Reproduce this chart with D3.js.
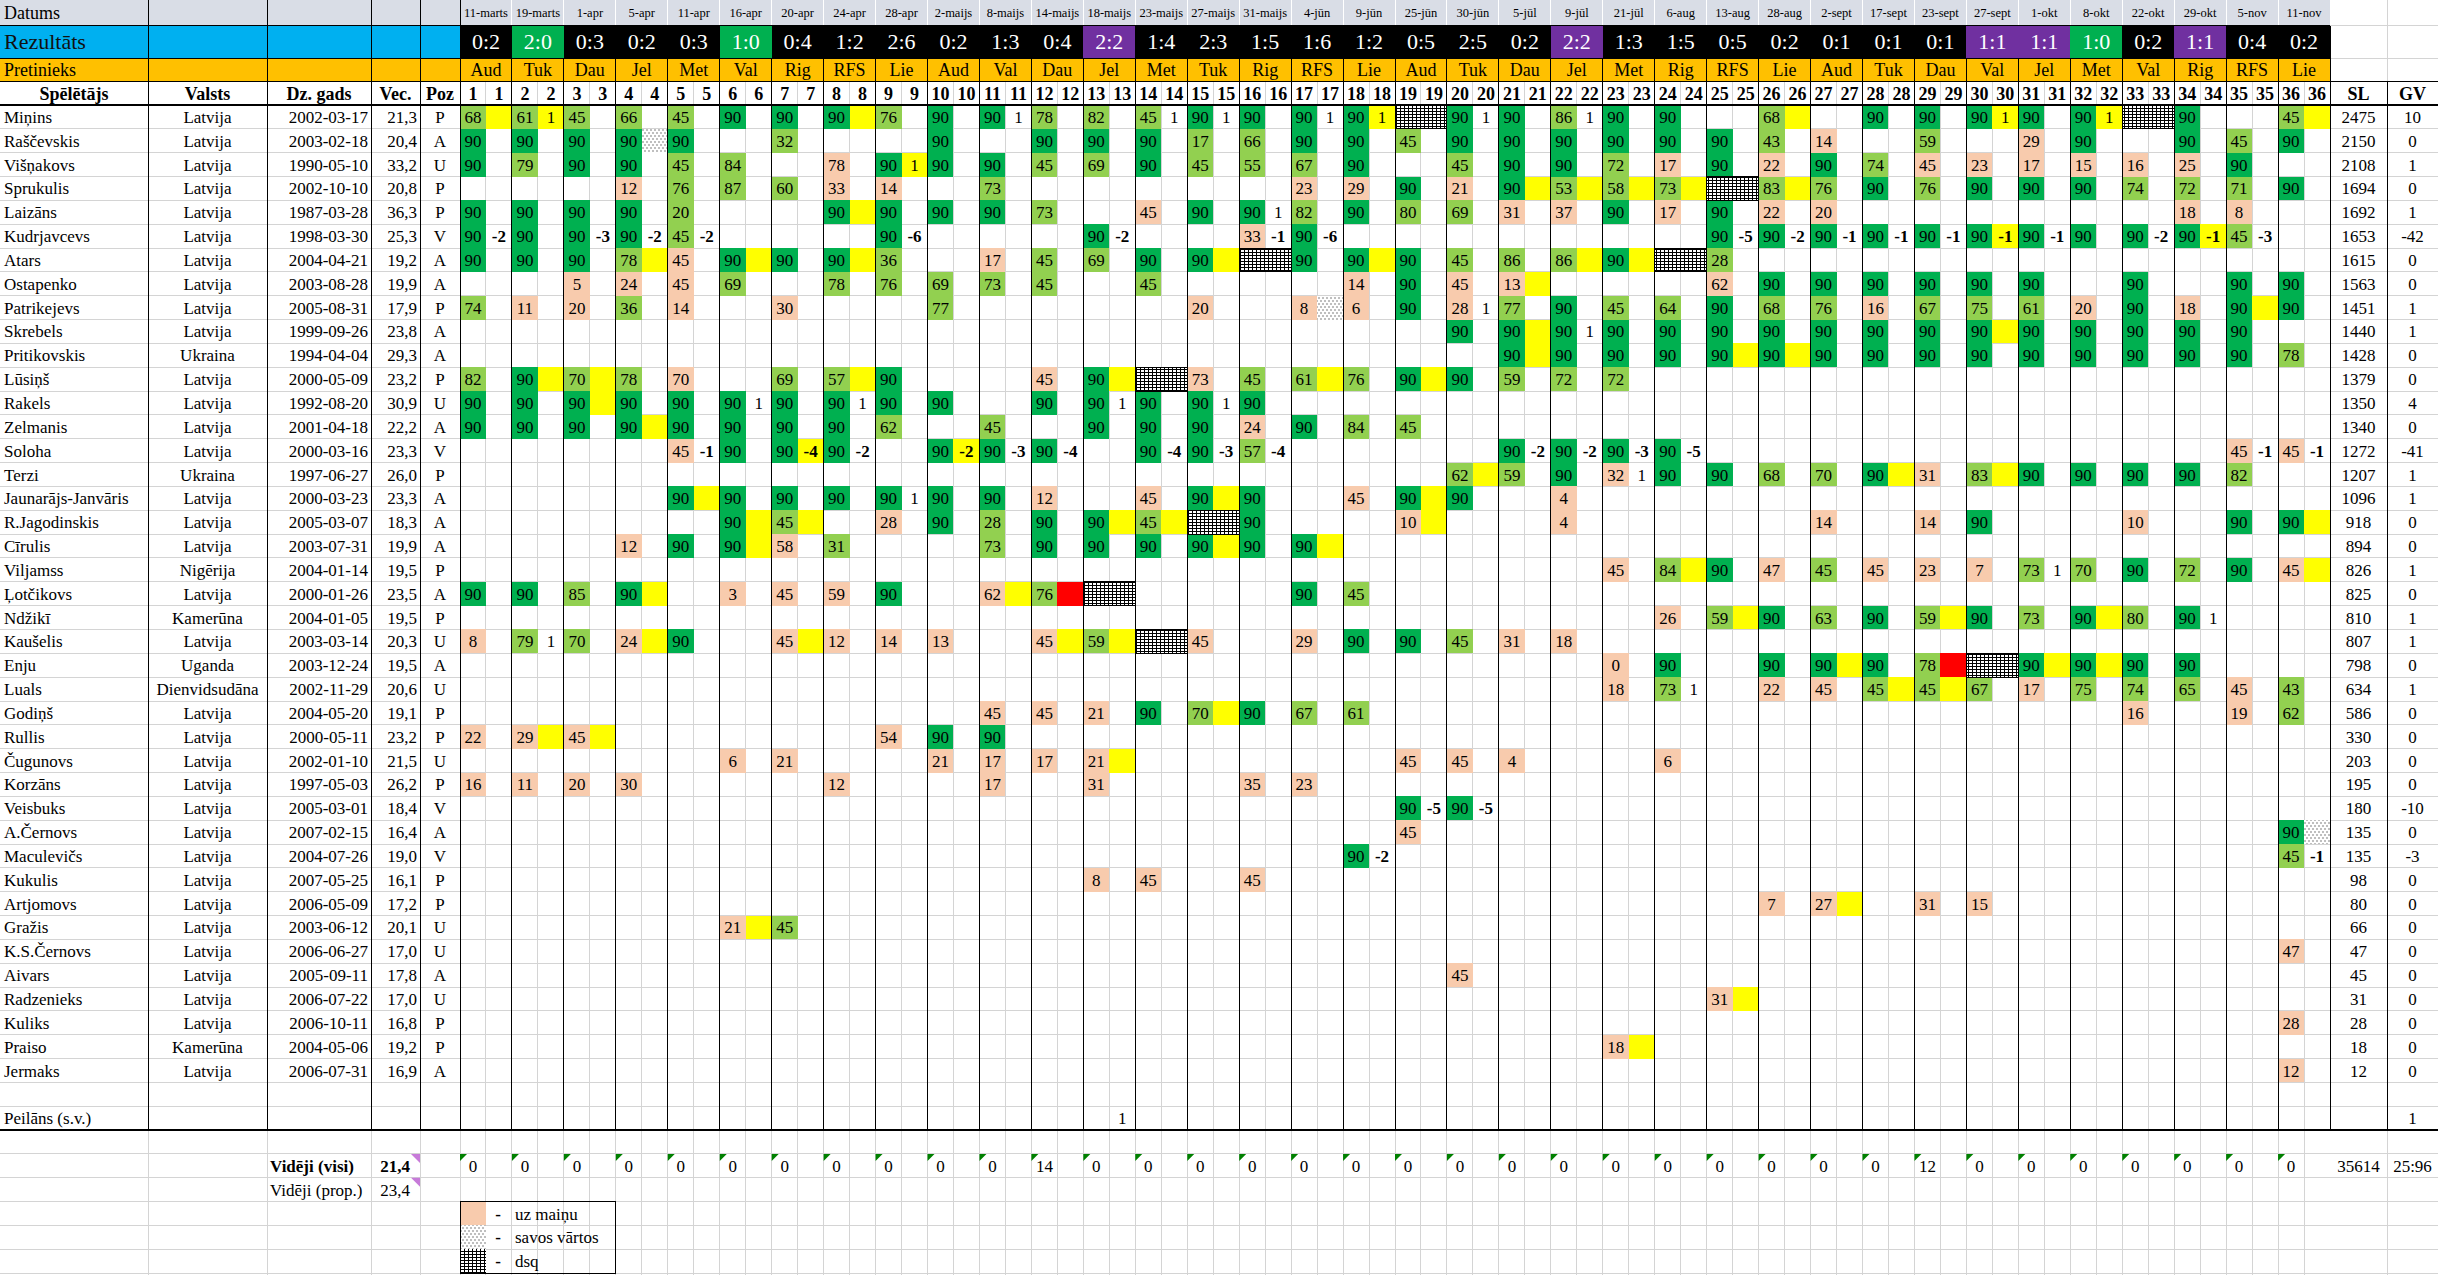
<!DOCTYPE html>
<html>
<head>
<meta charset="utf-8">
<script src="https://cdn.jsdelivr.net/npm/d3@7"></script>
<style>
body { margin: 0; background: #fff; }
svg { display: block; font-family: 'Liberation Serif', 'Times New Roman', serif; }
</style>
</head>
<body>
<svg width="2438" height="1275"></svg>
<script>
const dates = ['11-marts', '19-marts', '1-apr', '5-apr', '11-apr', '16-apr', '20-apr', '24-apr', '28-apr', '2-maijs',
    '8-maijs', '14-maijs', '18-maijs', '23-maijs', '27-maijs', '31-maijs', '4-jūn', '9-jūn', '25-jūn', '30-jūn',
    '5-jūl', '9-jūl', '21-jūl', '6-aug', '13-aug', '28-aug', '2-sept', '17-sept', '23-sept', '27-sept',
    '1-okt', '8-okt', '22-okt', '29-okt', '5-nov', '11-nov'];
const scores = ['0:2', '2:0', '0:3', '0:2', '0:3', '1:0', '0:4', '1:2', '2:6', '0:2', '1:3', '0:4', '2:2', '1:4', '2:3',
    '1:5', '1:6', '1:2', '0:5', '2:5', '0:2', '2:2', '1:3', '1:5', '0:5', '0:2', '0:1', '0:1', '0:1', '1:1',
    '1:1', '1:0', '0:2', '1:1', '0:4', '0:2'];
const opponents = ['Aud', 'Tuk', 'Dau', 'Jel', 'Met', 'Val', 'Rig', 'RFS', 'Lie', 'Aud', 'Val', 'Dau', 'Jel', 'Met', 'Tuk',
    'Rig', 'RFS', 'Lie', 'Aud', 'Tuk', 'Dau', 'Jel', 'Met', 'Rig', 'RFS', 'Lie', 'Aud', 'Tuk', 'Dau', 'Val',
    'Jel', 'Met', 'Val', 'Rig', 'RFS', 'Lie'];

const players = ['Miņins', 'Raščevskis', 'Višņakovs', 'Sprukulis', 'Laizāns', 'Kudrjavcevs', 'Atars', 'Ostapenko',
    'Patrikejevs', 'Skrebels', 'Pritikovskis', 'Lūsiņš', 'Rakels', 'Zelmanis', 'Soloha', 'Terzi', 'Jaunarājs-Janvāris',
    'R.Jagodinskis', 'Cīrulis', 'Viljamss', 'Ļotčikovs', 'Ndžikī', 'Kaušelis', 'Enju', 'Luals', 'Godiņš', 'Rullis',
    'Čugunovs', 'Korzāns', 'Veisbuks', 'A.Černovs', 'Maculevičs', 'Kukulis', 'Artjomovs', 'Gražis', 'K.S.Černovs',
    'Aivars', 'Radzenieks', 'Kuliks', 'Praiso', 'Jermaks'];
const countries = ['Latvija', 'Latvija', 'Latvija', 'Latvija', 'Latvija', 'Latvija', 'Latvija', 'Latvija', 'Latvija',
    'Latvija', 'Ukraina', 'Latvija', 'Latvija', 'Latvija', 'Latvija', 'Ukraina', 'Latvija', 'Latvija', 'Latvija',
    'Nigērija', 'Latvija', 'Kamerūna', 'Latvija', 'Uganda', 'Dienvidsudāna', 'Latvija', 'Latvija', 'Latvija', 'Latvija',
    'Latvija', 'Latvija', 'Latvija', 'Latvija', 'Latvija', 'Latvija', 'Latvija', 'Latvija', 'Latvija', 'Latvija',
    'Kamerūna', 'Latvija'];
const births = ['2002-03-17', '2003-02-18', '1990-05-10', '2002-10-10', '1987-03-28', '1998-03-30', '2004-04-21',
    '2003-08-28', '2005-08-31', '1999-09-26', '1994-04-04', '2000-05-09', '1992-08-20', '2001-04-18', '2000-03-16',
    '1997-06-27', '2000-03-23', '2005-03-07', '2003-07-31', '2004-01-14', '2000-01-26', '2004-01-05', '2003-03-14',
    '2003-12-24', '2002-11-29', '2004-05-20', '2000-05-11', '2002-01-10', '1997-05-03', '2005-03-01', '2007-02-15',
    '2004-07-26', '2007-05-25', '2006-05-09', '2003-06-12', '2006-06-27', '2005-09-11', '2006-07-22', '2006-10-11',
    '2004-05-06', '2006-07-31'];
const ages = ['21,3', '20,4', '33,2', '20,8', '36,3', '25,3', '19,2', '19,9', '17,9', '23,8', '29,3', '23,2', '30,9',
    '22,2', '23,3', '26,0', '23,3', '18,3', '19,9', '19,5', '23,5', '19,5', '20,3', '19,5', '20,6', '19,1', '23,2',
    '21,5', '26,2', '18,4', '16,4', '19,0', '16,1', '17,2', '20,1', '17,0', '17,8', '17,0', '16,8', '19,2', '16,9'];
const positions = ['P', 'A', 'U', 'P', 'P', 'V', 'A', 'A', 'P', 'A', 'A', 'P', 'U', 'A', 'V', 'P', 'A', 'A', 'A', 'P',
    'A', 'P', 'U', 'A', 'U', 'P', 'P', 'U', 'P', 'V', 'A', 'V', 'P', 'P', 'U', 'U', 'A', 'U', 'P', 'P', 'A'];
const minutesTotal = [2475, 2150, 2108, 1694, 1692, 1653, 1615, 1563, 1451, 1440, 1428, 1379, 1350, 1340, 1272, 1207,
    1096, 918, 894, 826, 825, 810, 807, 798, 634, 586, 330, 203, 195, 180, 135, 135, 98, 80, 66, 47, 45, 31, 28, 18, 12];
const goalsTotal = [10, 0, 1, 0, 1, -42, 0, 0, 1, 1, 0, 0, 4, 0, -41, 1, 1, 0, 0, 1, 0, 1, 1, 0, 1, 0, 0, 0, 0, -10,
    0, -3, 0, 0, 0, 0, 0, 0, 0, 0, 0];

// per match: g = full game, l = started, s = came on; after comma goals / y yellow / r red / o own goal; x = dsq; .N = N empty
const appearances = [
    'l68,y l61,1y l45 l66 l45 g90 g90 g90,y l76 g90 g90,1 l78 l82 l45,1 g90,1 g90 g90,1 g90,1y x g90,1 g90 l86,1 g90 g90 . l68,y . g90 g90 g90,1y g90 g90,1y x g90 . l45,y',
    'g90 g90 g90 g90,o g90 . l32 .2 g90 . g90 g90 g90 l17 l66 g90 g90 l45 g90 g90 g90 g90 g90 g90 l43 s14 . l59 . s29 g90 . g90 l45 g90',
    'g90 l79 g90 g90 l45 l84 . s78 g90,1y g90 g90 l45 l69 g90 l45 l55 l67 g90 . l45 g90 g90 l72 s17 g90 s22 g90 l74 s45 s23 s17 s15 s16 s25 g90 .',
    '.3 s12 l76 l87 l60 s33 s14 . l73 .5 s23 s29 g90 s21 g90,y l53,y l58,y l73,y x l83,y l76 g90 l76 g90 g90 g90 l74 l72 l71 g90',
    'g90 g90 g90 g90 l20 .2 g90,y g90 g90 g90 l73 . s45 g90 g90,1 l82 g90 l80 l69 s31 s37 g90 s17 g90 s22 s20 .6 s18 s8 .',
    'g90,-2 g90 g90,-3 g90,-2 l45,-2 .3 g90,-6 .3 g90,-2 .2 s33,-1 g90,-6 .7 g90,-5 g90,-2 g90,-1 g90,-1 g90,-1 g90,-1y g90,-1 g90 g90,-2 g90,-1y l45,-3 .',
    'g90 g90 g90 l78,y s45 g90,y g90 g90,y l36 . s17 l45 l69 g90 g90,y x g90 g90,y g90 l45 l86 l86,y g90,y x l28 .11',
    '.2 s5 s24 s45 l69 . l78 l76 l69 l73 l45 . l45 .3 s14 g90 s45 s13,y .3 s62 g90 g90 g90 g90 g90 g90 . g90 . g90 g90',
    'l74 s11 s20 l36 s14 . s30 .2 l77 .4 s20 . s8,o s6 g90 s28,1 l77 g90 l45 l64 g90 l68 l76 s16 l67 l75 l61 s20 g90 s18 g90,y g90',
    '.19 g90 g90,y g90,1 g90 g90 g90 g90 g90 g90 g90 g90,y g90 g90 g90 g90 g90 .',
    '.20 g90,y g90 g90 g90 g90,y g90,y g90 g90 g90 g90 g90 g90 g90 g90 g90 l78',
    'l82 g90,y l70,y l78 s70 . l69 l57,y g90 .2 s45 g90,y x s73 l45 l61,y l76 g90,y g90 l59 l72 l72 .13',
    'g90 g90 g90,y g90 g90 g90,1 g90 g90,1 g90 g90 . g90 g90,1 g90 g90,1 g90 .20',
    'g90 g90 g90 g90,y g90 g90 g90 g90 l62 . l45 . g90 g90 g90 s24 g90 l84 l45 .17',
    '.4 s45,-1 g90 g90,-4y g90,-2 . g90,-2y g90,-3 g90,-4 . g90,-4 g90,-3 l57,-4 .4 g90,-2 g90,-2 g90,-3 g90,-5 .10 s45,-1 s45,-1',
    '.19 l62,y l59 g90 s32,1 g90 g90 l68 l70 g90,y s31 l83,y g90 g90 g90 g90 l82 .',
    '.4 g90,y g90 g90 g90 g90,1 g90 g90 s12 . s45 g90,y g90 . s45 g90,y g90 . s4 .14',
    '.5 g90,y l45,y . s28 g90 l28 g90 g90,y l45,y x g90 .2 s10,y .2 s4 .4 s14 . s14 g90 .2 s10 . g90 g90,y',
    '.3 s12 g90 g90,y s58 l31 .2 l73 g90 g90 g90 g90,y g90 g90,y .19',
    '.22 s45 l84,y g90 s47 l45 s45 s23 s7 l73,1 l70 g90 l72 g90 s45,y',
    'g90 g90 l85 g90,y . s3 s45 s59 g90 . s62,y l76,r x .3 g90 l45 .18',
    '.23 s26 l59,y g90 l63 g90 l59,y g90 l73 g90,y l80 g90,1 .2',
    's8 l79,1 l70 s24,y g90 . s45,y s12 s14 s13 . s45,y l59,y x s45 . s29 g90 g90 l45 s31 s18 .14',
    '.22 s0 g90 . g90 g90,y g90 l78,r x g90,y g90,y g90 g90 .2',
    '.22 s18 l73,1 . s22 s45 l45,y l45,y l67 s17 l75 l74 l65 s45 l43',
    '.10 s45 s45 s21 g90 l70,y g90 l67 l61 .14 s16 . s19 l62',
    's22 s29,y s45,y .5 s54 g90 g90 .25',
    '.5 s6 s21 .2 s21 s17 s17 s21,y .5 s45 s45 s4 .2 s6 .12',
    's16 s11 s20 s30 .3 s12 .2 s17 . s31 .2 s35 s23 .19',
    '.18 g90,-5 g90,-5 .16',
    '.18 s45 .16 g90,o',
    '.17 g90,-2 .17 l45,-1',
    '.12 s8 s45 . s45 .20',
    '.25 s7 s27,y . s31 s15 .6',
    '.5 s21,y l45 .29',
    '.35 s47',
    '.19 s45 .16',
    '.24 s31,y .11',
    '.35 s28',
    '.22 s18,y .13',
    '.35 s12'
];

const keeperName = 'Peilāns (s.v.)';
const keeperApps = '.12 n,1 .23';
const keeperGoals = 1;

const averages = [0, 0, 0, 0, 0, 0, 0, 0, 0, 0, 0, 14, 0, 0, 0, 0, 0, 0, 0, 0, 0, 0, 0, 0, 0, 0, 0, 0, 12, 0,
    0, 0, 0, 0, 0, 0];
const averageLabels = ['Vidēji (visi)', 'Vidēji (prop.)'];
const averageAges = ['21,4', '23,4'];
const seasonTotals = ['35614', '25:96'];
const legendLabels = ['uz maiņu', 'savos vārtos', 'dsq'];

const svg = d3.select('svg');
const width = +svg.attr('width');
const height = +svg.attr('height');

const nRows = 49;
const x = d3.scaleLinear().domain([0, dates.length]).range([460, 2330]);
const y = d3.scaleLinear().domain([0, nRows]).range([105, 105 + nRows * 23.84]);
const half = (x(1) - x(0)) / 2;
const rh = y(1) - y(0);
const colEdges = [148, 267, 371, 420, 460];
const slLeft = 2330, gvLeft = 2387;
const tableBottom = y(players.length + 2);

const fillByKind = { g: '#00b050', l: '#92d050', s: '#f8cbad' };
const markFill = { y: '#ffff00', r: '#ff0000', o: 'url(#dots)' };
const gridColor = '#d4d4d4';

const parseRow = (s) => {
    const out = [];
    s.split(' ').forEach((t) => {
        const rep = t.match(/^\.(\d+)$/);
        if (rep) {
            for (let i = 0; i < +rep[1]; i++) out.push(null);
        } else if (t === '.') {
            out.push(null);
        } else if (t === 'x') {
            out.push({ dsq: true });
        } else {
            const [m, extra = ''] = t.split(',');
            const ex = extra.match(/^(-?\d+)?([yro])?$/);
            out.push({ kind: m[0], min: m.slice(1), goals: ex[1] || '', mark: ex[2] || '' });
        }
    });
    return out;
};

const cells = [];
appearances.forEach((s, r) => parseRow(s).forEach((c, m) => { if (c) cells.push({ ...c, r, m }); }));
parseRow(keeperApps).forEach((c, m) => { if (c) cells.push({ ...c, r: players.length + 1, m }); });

const defs = svg.append('defs');
const dsq = defs.append('pattern')
    .attr('id', 'dsq')
    .attr('width', 4).attr('height', 3)
    .attr('patternUnits', 'userSpaceOnUse');
dsq.append('rect').attr('width', 4).attr('height', 3).attr('fill', '#fff');
dsq.append('rect').attr('width', 4).attr('height', 1).attr('fill', '#000');
dsq.append('rect').attr('width', 1).attr('height', 3).attr('fill', '#000');
const dots = defs.append('pattern')
    .attr('id', 'dots')
    .attr('width', 4).attr('height', 6)
    .attr('patternUnits', 'userSpaceOnUse');
dots.append('rect').attr('width', 4).attr('height', 6).attr('fill', '#fff');
dots.append('rect').attr('x', 0.5).attr('y', 0.5).attr('width', 1).attr('height', 1).attr('fill', '#000');
dots.append('rect').attr('x', 2.5).attr('y', 3.5).attr('width', 1).attr('height', 1).attr('fill', '#000');

svg.append('rect').attr('width', width).attr('height', height).attr('fill', '#fff');

// header bands
const head = svg.append('g').attr('shape-rendering', 'crispEdges');
head.append('rect').attr('x', 0).attr('y', 0).attr('width', slLeft).attr('height', 25).attr('fill', '#d9dde6');
head.append('rect').attr('x', 0).attr('y', 25).attr('width', 460).attr('height', 33).attr('fill', '#00b0f0');
head.append('rect').attr('x', 0).attr('y', 58).attr('width', slLeft).attr('height', 23).attr('fill', '#ffc000');

const resultColor = (s) => {
    const [a, b] = s.split(':').map(Number);
    return a > b ? '#00b050' : a === b ? '#7030a0' : '#000000';
};
head.selectAll('rect.score')
    .data(scores)
    .join('rect')
    .attr('class', 'score')
    .attr('x', (d, i) => x(i))
    .attr('y', 25)
    .attr('width', x(1) - x(0) + 0.5)
    .attr('height', 33)
    .attr('fill', resultColor);

// light grid
const grid = svg.append('g').attr('stroke', gridColor).attr('shape-rendering', 'crispEdges');
grid.selectAll('line.h')
    .data(d3.range(nRows + 1))
    .join('line')
    .attr('class', 'h')
    .attr('x1', 0).attr('x2', width)
    .attr('y1', (d) => y(d)).attr('y2', (d) => y(d));
grid.selectAll('line.sub')
    .data(d3.range(dates.length))
    .join('line')
    .attr('class', 'sub')
    .attr('x1', (d) => x(d) + half).attr('x2', (d) => x(d) + half)
    .attr('y1', 81).attr('y2', height);
grid.selectAll('line.low')
    .data(d3.range(dates.length).map(x).concat(colEdges, [gvLeft]))
    .join('line')
    .attr('class', 'low')
    .attr('x1', (d) => d).attr('x2', (d) => d)
    .attr('y1', tableBottom).attr('y2', height);
grid.selectAll('line.top')
    .data([25, 58])
    .join('line')
    .attr('class', 'top')
    .attr('x1', slLeft).attr('x2', width)
    .attr('y1', (d) => d).attr('y2', (d) => d);
grid.append('line').attr('x1', gvLeft).attr('x2', gvLeft).attr('y1', 0).attr('y2', 81);

// cells
const cellG = svg.append('g').attr('shape-rendering', 'crispEdges');
cellG.selectAll('rect.min')
    .data(cells.filter((c) => !c.dsq && fillByKind[c.kind]))
    .join('rect')
    .attr('class', 'min')
    .attr('x', (d) => x(d.m)).attr('y', (d) => y(d.r))
    .attr('width', half).attr('height', rh)
    .attr('fill', (d) => fillByKind[d.kind]);
cellG.selectAll('rect.mark')
    .data(cells.filter((c) => c.mark))
    .join('rect')
    .attr('class', 'mark')
    .attr('x', (d) => x(d.m) + half).attr('y', (d) => y(d.r))
    .attr('width', half).attr('height', rh)
    .attr('fill', (d) => markFill[d.mark]);
cellG.selectAll('rect.dsq')
    .data(cells.filter((c) => c.dsq))
    .join('rect')
    .attr('class', 'dsq')
    .attr('x', (d) => x(d.m)).attr('y', (d) => y(d.r))
    .attr('width', half * 2).attr('height', rh)
    .attr('fill', 'url(#dsq)')
    .attr('stroke', '#000');

const txt = svg.append('g').attr('font-size', 17).attr('fill', '#000');
txt.selectAll('text.min')
    .data(cells.filter((c) => !c.dsq && c.min !== ''))
    .join('text')
    .attr('class', 'min')
    .attr('x', (d) => x(d.m) + half / 2)
    .attr('y', (d) => y(d.r) + rh / 2 + 6)
    .attr('text-anchor', 'middle')
    .text((d) => d.min);
txt.selectAll('text.goal')
    .data(cells.filter((c) => c.goals !== ''))
    .join('text')
    .attr('class', 'goal')
    .attr('x', (d) => x(d.m) + half * 1.5)
    .attr('y', (d) => y(d.r) + rh / 2 + 6)
    .attr('text-anchor', 'middle')
    .attr('font-weight', (d) => (+d.goals < 0 ? 'bold' : null))
    .text((d) => d.goals);

// player columns
const rowsG = txt.selectAll('g.player')
    .data(players)
    .join('g')
    .attr('class', 'player')
    .attr('transform', (d, i) => `translate(0, ${y(i) + rh / 2 + 6})`);
rowsG.append('text').attr('x', 4).text((d) => d);
rowsG.append('text').attr('x', 207.5).attr('text-anchor', 'middle').text((d, i) => countries[i]);
rowsG.append('text').attr('x', 368).attr('text-anchor', 'end').text((d, i) => births[i]);
rowsG.append('text').attr('x', 417).attr('text-anchor', 'end').text((d, i) => ages[i]);
rowsG.append('text').attr('x', 440).attr('text-anchor', 'middle').text((d, i) => positions[i]);
rowsG.append('text').attr('x', (slLeft + gvLeft) / 2).attr('text-anchor', 'middle').text((d, i) => minutesTotal[i]);
rowsG.append('text').attr('x', (gvLeft + width) / 2).attr('text-anchor', 'middle').text((d, i) => goalsTotal[i]);

const kY = y(players.length + 1) + rh / 2 + 6;
txt.append('text').attr('x', 4).attr('y', kY).text(keeperName);
txt.append('text').attr('x', (gvLeft + width) / 2).attr('y', kY).attr('text-anchor', 'middle').text(keeperGoals);

// averages
const avgRow = players.length + 3;
svg.append('g')
    .selectAll('path')
    .data(averages)
    .join('path')
    .attr('d', (d, i) => `M${x(i)},${y(avgRow)}h7l-7,7z`)
    .attr('fill', '#008000');
txt.selectAll('text.avg')
    .data(averages)
    .join('text')
    .attr('class', 'avg')
    .attr('x', (d, i) => x(i) + half / 2)
    .attr('y', y(avgRow) + rh / 2 + 6)
    .attr('text-anchor', 'middle')
    .text((d) => d);
averageLabels.forEach((label, k) => {
    const yy = y(avgRow + k) + rh / 2 + 6;
    txt.append('text').attr('x', 270).attr('y', yy)
        .attr('font-weight', k === 0 ? 'bold' : null).text(label);
    txt.append('text').attr('x', 410).attr('y', yy).attr('text-anchor', 'end')
        .attr('font-weight', k === 0 ? 'bold' : null).text(averageAges[k]);
    svg.append('path')
        .attr('d', `M${420},${y(avgRow + k)}h-9l9,9z`)
        .attr('fill', '#c77bd9');
});
txt.append('text').attr('x', (slLeft + gvLeft) / 2).attr('y', y(avgRow) + rh / 2 + 6)
    .attr('text-anchor', 'middle').text(seasonTotals[0]);
txt.append('text').attr('x', (gvLeft + width) / 2).attr('y', y(avgRow) + rh / 2 + 6)
    .attr('text-anchor', 'middle').text(seasonTotals[1]);

// legend
const legRow = avgRow + 2;
const leg = svg.append('g');
leg.selectAll('rect.sw')
    .data(legendLabels)
    .join('rect')
    .attr('class', 'sw')
    .attr('shape-rendering', 'crispEdges')
    .attr('x', x(0)).attr('y', (d, i) => y(legRow + i))
    .attr('width', half).attr('height', rh)
    .attr('fill', (d, i) => ['#f8cbad', 'url(#dots)', 'url(#dsq)'][i]);
leg.selectAll('text.dash')
    .data(legendLabels)
    .join('text')
    .attr('class', 'dash')
    .attr('x', 498).attr('y', (d, i) => y(legRow + i) + rh / 2 + 6)
    .attr('text-anchor', 'middle').attr('font-size', 17).attr('font-weight', 'bold')
    .text('-');
leg.selectAll('text.lab')
    .data(legendLabels)
    .join('text')
    .attr('class', 'lab')
    .attr('x', 515).attr('y', (d, i) => y(legRow + i) + rh / 2 + 6)
    .attr('font-size', 17)
    .text((d) => d);
leg.append('rect')
    .attr('x', x(0)).attr('y', y(legRow))
    .attr('width', x(3) - x(0)).attr('height', y(legRow + 3) - y(legRow))
    .attr('fill', 'none').attr('stroke', '#000').attr('shape-rendering', 'crispEdges');

// black rules
const rules = svg.append('g').attr('stroke', '#000').attr('shape-rendering', 'crispEdges');
rules.selectAll('line.dw')
    .data(d3.range(1, dates.length))
    .join('line')
    .attr('class', 'dw')
    .attr('x1', (d) => x(d)).attr('x2', (d) => x(d))
    .attr('y1', 0).attr('y2', 25)
    .attr('stroke', '#fff');
rules.selectAll('line.mv')
    .data(d3.range(1, dates.length + 1))
    .join('line')
    .attr('class', 'mv')
    .attr('x1', (d) => x(d)).attr('x2', (d) => x(d))
    .attr('y1', 58).attr('y2', tableBottom);
rules.selectAll('line.cv')
    .data(colEdges)
    .join('line')
    .attr('class', 'cv')
    .attr('x1', (d) => d).attr('x2', (d) => d)
    .attr('y1', 0).attr('y2', tableBottom);
rules.append('line').attr('x1', gvLeft).attr('x2', gvLeft).attr('y1', 81).attr('y2', tableBottom);
rules.selectAll('line.hh')
    .data([25, 58])
    .join('line')
    .attr('class', 'hh')
    .attr('x1', 0).attr('x2', slLeft)
    .attr('y1', (d) => d).attr('y2', (d) => d);
rules.append('line').attr('x1', 0).attr('x2', width).attr('y1', 81).attr('y2', 81);
rules.selectAll('line.thick')
    .data([105, tableBottom])
    .join('line')
    .attr('class', 'thick')
    .attr('x1', 0).attr('x2', width)
    .attr('y1', (d) => d).attr('y2', (d) => d)
    .attr('stroke-width', 2);

// header texts
const ht = svg.append('g');
ht.append('text').attr('x', 4).attr('y', 19).attr('font-size', 18).text('Datums');
ht.selectAll('text.date')
    .data(dates)
    .join('text')
    .attr('class', 'date')
    .attr('x', (d, i) => x(i) + half)
    .attr('y', 17)
    .attr('text-anchor', 'middle')
    .attr('font-size', 12.5)
    .text((d) => d);
ht.append('text').attr('x', 4).attr('y', 49).attr('font-size', 22).attr('fill', '#111').text('Rezultāts');
ht.selectAll('text.score')
    .data(scores)
    .join('text')
    .attr('class', 'score')
    .attr('x', (d, i) => x(i) + half)
    .attr('y', 49)
    .attr('text-anchor', 'middle')
    .attr('font-size', 22)
    .attr('fill', '#fff')
    .text((d) => d);
ht.append('text').attr('x', 4).attr('y', 76).attr('font-size', 18).text('Pretinieks');
ht.selectAll('text.opp')
    .data(opponents)
    .join('text')
    .attr('class', 'opp')
    .attr('x', (d, i) => x(i) + half)
    .attr('y', 76)
    .attr('text-anchor', 'middle')
    .attr('font-size', 18)
    .text((d) => d);

const colTitles = [['Spēlētājs', 74], ['Valsts', 207.5], ['Dz. gads', 319], ['Vec.', 395.5], ['Poz', 440],
    ['SL', (slLeft + gvLeft) / 2], ['GV', (gvLeft + width) / 2]];
ht.selectAll('text.col')
    .data(colTitles)
    .join('text')
    .attr('class', 'col')
    .attr('x', (d) => d[1]).attr('y', 99.5)
    .attr('text-anchor', 'middle')
    .attr('font-size', 18).attr('font-weight', 'bold')
    .text((d) => d[0]);
ht.selectAll('text.num')
    .data(d3.range(dates.length * 2))
    .join('text')
    .attr('class', 'num')
    .attr('x', (d) => x(Math.floor(d / 2)) + half * (d % 2) + half / 2)
    .attr('y', 99.5)
    .attr('text-anchor', 'middle')
    .attr('font-size', 18).attr('font-weight', 'bold')
    .text((d) => Math.floor(d / 2) + 1);
</script>
</body>
</html>
